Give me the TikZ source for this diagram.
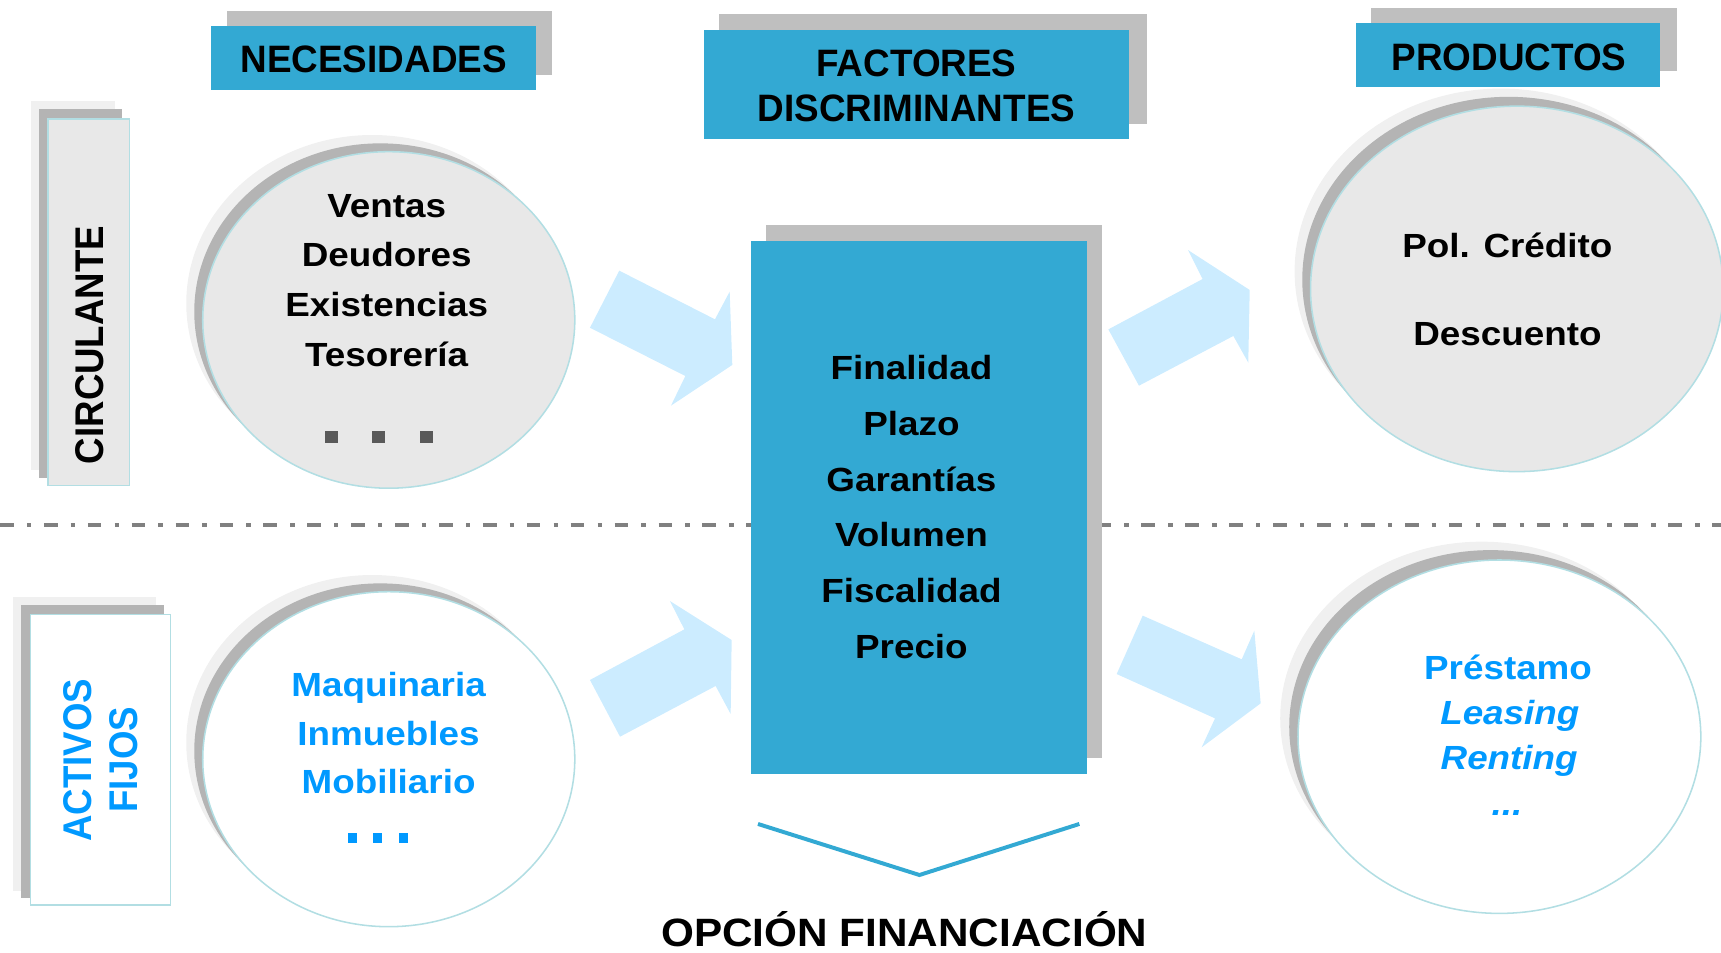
\documentclass[tikz,border=0pt]{standalone}
\usepackage{fontspec}
\setmainfont{Liberation Sans}
\newfontfamily\bodyfont{Liberation Sans}[FakeStretch=1.1]
\newfontfamily\hdrfont{Liberation Sans}[FakeStretch=0.965]
\newfontfamily\optfont{Liberation Sans}[FakeStretch=1.07]
\newfontfamily\rotfont{Liberation Sans}[FakeStretch=0.915]
\usetikzlibrary{shapes.geometric}
\definecolor{hdrblue}{RGB}{51,169,211}
\definecolor{hdrshadow}{RGB}{191,191,191}
\definecolor{lightshadow}{RGB}{240,240,240}
\definecolor{darkshadow}{RGB}{180,180,180}
\definecolor{circgray}{RGB}{232,232,232}
\definecolor{borderblue}{RGB}{178,222,227}
\definecolor{arrowblue}{RGB}{204,236,255}
\definecolor{txtblue}{RGB}{0,153,255}
\definecolor{dotgray}{RGB}{89,89,89}
\definecolor{linegray}{RGB}{128,128,128}
\tikzset{
  lshad/.style={fill=lightshadow, draw=none},
  dshad/.style={fill=darkshadow, draw=none},
  hshad/.style={fill=hdrshadow, draw=none},
  hdrbox/.style={rectangle, fill=hdrblue, draw=none, inner sep=0pt},
  sidebox/.style={rectangle, draw=borderblue, line width=0.7pt, inner sep=0pt},
  circ/.style={ellipse, draw=borderblue, line width=0.7pt, inner sep=0pt},
  lcirc/.style={ellipse, fill=lightshadow, draw=none, inner sep=0pt},
  dcirc/.style={ellipse, fill=darkshadow, draw=none, inner sep=0pt},
  bigarrow/.style={fill=arrowblue, draw=none},
  bodytxt/.style={font=\bodyfont\bfseries\fontsize{15.25pt}{18pt}\selectfont, anchor=base, inner sep=0pt},
  itxt/.style={font=\bodyfont\bfseries\itshape\fontsize{15.25pt}{18pt}\selectfont, anchor=base, inner sep=0pt},
  hdrtxt/.style={font=\hdrfont\bfseries\fontsize{17.4pt}{20pt}\selectfont, anchor=base, inner sep=0pt},
  opttxt/.style={font=\optfont\bfseries\fontsize{18pt}{21pt}\selectfont, anchor=base, inner sep=0pt},
  rottxt/.style={font=\rotfont\bfseries\fontsize{18.25pt}{21pt}\selectfont, anchor=base, inner sep=0pt, rotate=90},
  dashline/.style={draw=linegray, line width=1.8pt, dash pattern=on 6.2pt off 6pt on 2pt off 5.8pt},
  chevron/.style={draw=hdrblue, line width=1.8pt},
}
\begin{document}
\begin{tikzpicture}[x=0.5pt,y=-0.5pt]
\useasboundingbox (0,0) rectangle (1568,868);
\begin{scope}
\clip (0,0) rectangle (1568,868);

% dashed separator
\coordinate (dl) at (0,478);
\coordinate (dr) at (1568,478);
\draw[dashline] (dl) -- (dr);

% header boxes
\path[hshad] (207,10) rectangle (503,68);
\node[hdrbox, minimum width=148pt, minimum height=29pt] (necbox) at (340,53) {};
\path[hshad] (655,13) rectangle (1045,113);
\node[hdrbox, minimum width=194pt, minimum height=50pt] (facbox) at (835,77) {};
\path[hshad] (1249,7) rectangle (1528,65);
\node[hdrbox, minimum width=138.5pt, minimum height=29pt] (probox) at (1373.5,50) {};

\node[hdrtxt] (necT) at (340.5,65.8) {NECESIDADES};
\node[hdrtxt] (facT1) at (835,69.9) {FACTORES};
\node[hdrtxt] (facT2) at (835,110.9) {DISCRIMINANTES};
\node[hdrtxt] (proT) at (1374.8,64.4) {PRODUCTOS};

% side boxes
\path[lshad] (28.6,92) rectangle (104.6,428);
\path[dshad] (35.9,99.6) rectangle (111.6,435.8);
\node[sidebox, fill=circgray, minimum width=37.15pt, minimum height=167.05pt] (circbox) at (80.75,275.45) {};
\node[rottxt] (circT) at (94.1,314.3) {CIRCULANTE};

\path[lshad] (12.2,544) rectangle (142.3,811.5);
\path[dshad] (19.2,551) rectangle (149.3,818);
\node[sidebox, fill=white, minimum width=63.65pt, minimum height=132.25pt] (actbox) at (91.55,692.25) {};
\node[rottxt, text=txtblue] (actT1) at (83.7,692.5) {ACTIVOS};
\node[rottxt, text=txtblue] (actT2) at (125.5,692.4) {FIJOS};

% circle 1
\node[lcirc, minimum width=169.5pt, minimum height=153.3pt] (c1l) at (339.2,276.3) {};
\node[dcirc, minimum width=169.5pt, minimum height=153.3pt] (c1d) at (346.5,283.9) {};
\node[circ, fill=circgray, minimum width=169.5pt, minimum height=153.3pt] (c1) at (354.2,291.5) {};
\node[bodytxt] (v1) at (352.3,198) {Ventas};
\node[bodytxt] (v2) at (352.3,243) {Deudores};
\node[bodytxt] (v3) at (352.3,288.5) {Existencias};
\node[bodytxt] (v4) at (352.3,333.5) {Tesorería};
\fill[dotgray] (296.5,392.7) rectangle (307.9,403.9);
\fill[dotgray] (339,392.7) rectangle (350.4,403.9);
\fill[dotgray] (382.9,392.7) rectangle (394.3,403.9);

% circle 2
\node[lcirc, minimum width=169.5pt, minimum height=152.6pt] (c2l) at (339.2,676.5) {};
\node[dcirc, minimum width=169.5pt, minimum height=152.6pt] (c2d) at (346.5,684.1) {};
\node[circ, fill=white, minimum width=169.5pt, minimum height=152.6pt] (c2) at (354.2,691.7) {};
\node[bodytxt, text=txtblue] (m1) at (354,634.7) {Maquinaria};
\node[bodytxt, text=txtblue] (m2) at (354,679.5) {Inmuebles};
\node[bodytxt, text=txtblue] (m3) at (354,722.8) {Mobiliario};
\fill[txtblue] (317,759) rectangle (325.5,767.8);
\fill[txtblue] (339.8,759) rectangle (348.3,767.8);
\fill[txtblue] (363.5,759) rectangle (372,767.8);

% circle 3
\node[lcirc, minimum width=188pt, minimum height=166.5pt] (c3l) at (1367.5,247.2) {};
\node[dcirc, minimum width=188pt, minimum height=166.5pt] (c3d) at (1374.5,254.7) {};
\node[circ, fill=circgray, minimum width=188pt, minimum height=166.5pt] (c3) at (1382,263.2) {};
\node[bodytxt] (p1) at (1373.4,234.4) {Pol. Crédito};
\node[bodytxt] (p2) at (1373.4,315.2) {Descuento};

% circle 4
\node[lcirc, minimum width=183.5pt, minimum height=161pt] (c4l) at (1349.9,654.5) {};
\node[dcirc, minimum width=183.5pt, minimum height=161pt] (c4d) at (1358.1,662.2) {};
\node[circ, fill=white, minimum width=183.5pt, minimum height=161pt] (c4) at (1366.1,671.2) {};
\node[bodytxt, text=txtblue] (q1) at (1374,619.5) {Préstamo};
\node[itxt, text=txtblue] (q2) at (1375.6,660.5) {Leasing};
\node[itxt, text=txtblue] (q3) at (1375,701.5) {Renting};
\node[itxt, text=txtblue] (q4) at (1373,742.6) {...};

% block arrows
\path[bigarrow] (564.2,246.6) -- (651.4,290.9) -- (664.8,265.7) -- (667.2,332.5) -- (611.3,369.6) -- (624.4,342.6) -- (537.5,298.6) -- cycle;
\path[bigarrow] (537.5,619.5) -- (623.5,573.4) -- (610.4,547.6) -- (666.6,583.1) -- (665.7,650.5) -- (652.0,625.0) -- (564.9,671.2) -- cycle;
\path[bigarrow] (1009.8,300.1) -- (1095.7,254.2) -- (1082.4,227.8) -- (1138.6,264.2) -- (1137.3,330.4) -- (1123.7,306.1) -- (1037.7,351.4) -- cycle;
\path[bigarrow] (1041.1,560.9) -- (1131.3,600.7) -- (1142.8,574.6) -- (1148.6,640.8) -- (1094.8,680.9) -- (1107.0,654.5) -- (1017.4,614.1) -- cycle;

% middle box
\path[hshad] (698,205) rectangle (1004,691);
\node[hdrbox, minimum width=153pt, minimum height=242.5pt] (midbox) at (837,462.5) {};
\node[bodytxt] (f1) at (830.4,345.8) {Finalidad};
\node[bodytxt] (f2) at (830.4,396.6) {Plazo};
\node[bodytxt] (f3) at (830.4,447.4) {Garantías};
\node[bodytxt] (f4) at (830.4,498.2) {Volumen};
\node[bodytxt] (f5) at (830.4,549.0) {Fiscalidad};
\node[bodytxt] (f6) at (830.4,599.8) {Precio};

% chevron and result
\coordinate (chl) at (690.6,750.7);
\coordinate (chm) at (837.7,797.2);
\coordinate (chr) at (983.4,750.7);
\draw[chevron] (chl) -- (chm) -- (chr);
\node[opttxt] (opt) at (824,862) {OPCIÓN FINANCIACIÓN};
\end{scope}
\end{tikzpicture}
\end{document}
